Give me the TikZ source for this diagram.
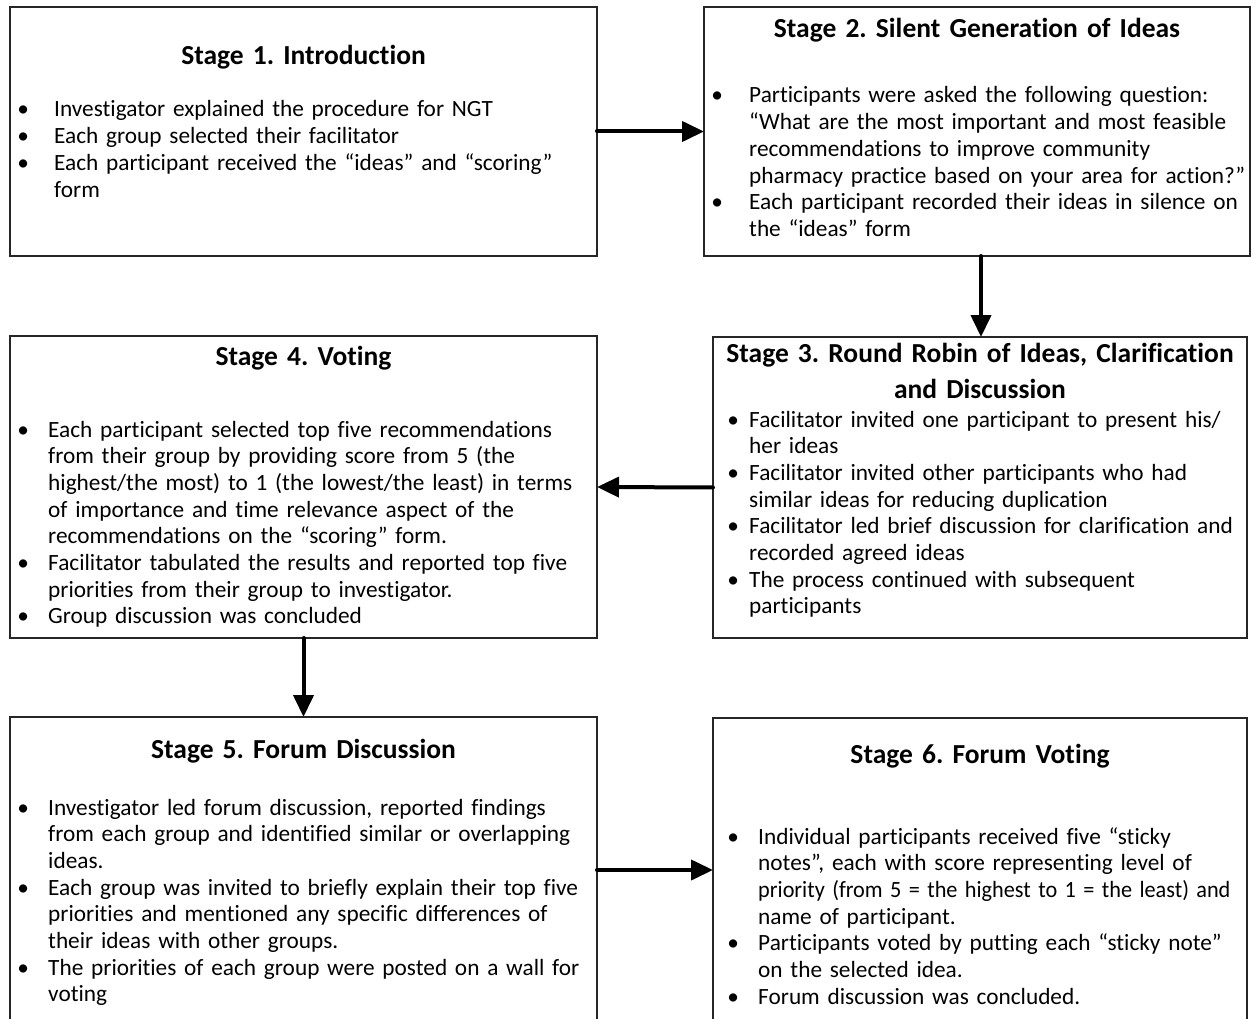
\documentclass[tikz,border=0pt]{standalone}
\usepackage{fontspec}
\usepackage{graphicx}
\setmainfont{Carlito}[Ligatures={NoCommon}]
\usetikzlibrary{arrows.meta}
\frenchspacing

% type sizes for stage headings and bullet text
\newcommand\bodysize{\fontsize{23.3pt}{26.7pt}\selectfont}
\newcommand\headsize{\fontsize{27.5pt}{36pt}\selectfont\bfseries}
% bullet hanging in the left margin of a list node
\newlength\bgap
\newcommand\itm{\llap{\makebox[0pt]{\textbullet}\hskip\bgap}\ignorespaces}
% a slightly condensed line
\newcommand\tight[1]{\scalebox{0.955}[1]{#1}}

\tikzset{
  stagebox/.style={draw=black!85, line width=1.3pt, rectangle, inner sep=0pt,
    outer sep=0pt, anchor=north west},
  head/.style={anchor=base, inner sep=0pt, text width=540pt, align=center, font=\headsize},
  items/.style={anchor=base west, inner sep=0pt, text width=640pt, align=left, font=\bodysize},
  flow/.style={line width=4pt, line cap=round, -{Triangle[length=22pt, width=20pt]}}
}

\begin{document}
\begin{tikzpicture}[x=1pt, y=-1pt]
\clip (0,0) rectangle (1253,1019);
\fill[white] (0,0) rectangle (1253,1019);

% stage frames
\node[stagebox, minimum width=587pt, minimum height=249pt] (b1) at (10,7) {};
\node[stagebox, minimum width=546pt, minimum height=249pt] (b2) at (704,7) {};
\node[stagebox, minimum width=534pt, minimum height=301pt] (b3) at (713,337) {};
\node[stagebox, minimum width=587pt, minimum height=302pt] (b4) at (10,336) {};
\node[stagebox, minimum width=587pt, minimum height=310pt] (b5) at (10,717) {};
\node[stagebox, minimum width=534pt, minimum height=310pt] (b6) at (713,718) {};

% Stage 1
\node[head] (h1) at (303.5,65) {Stage 1. Introduction};
\node[items] (t1) at (54,117) {\setlength\bgap{31pt}%
\itm Investigator explained the procedure for NGT\newline
\itm Each group selected their facilitator\newline
\itm Each participant received the “ideas” and “scoring”\newline form};

% Stage 2
\node[head] (h2) at (977,38) {Stage 2. Silent Generation of Ideas};
\node[items] (t2) at (749,103) {\setlength\bgap{32pt}%
\itm Participants were asked the following question:\newline
“What are the most important and most feasible\newline
recommendations to improve community\newline
pharmacy practice based on your area for action?”\newline
\itm Each participant recorded their ideas in silence on\newline the “ideas” form};

% Stage 3
\node[head] (h3) at (980,362) {Stage 3. Round Robin of Ideas, Clarification\\ and Discussion};
\node[items] (t3) at (749,427) {\setlength\bgap{16pt}%
\itm Facilitator invited one participant to present his/\newline her ideas\newline
\itm Facilitator invited other participants who had\newline similar ideas for reducing duplication\newline
\itm Facilitator led brief discussion for clarification and\newline recorded agreed ideas\newline
\itm The process continued with subsequent\newline participants};

% Stage 4
\node[head] (h4) at (303.5,365) {Stage 4. Voting};
\node[items] (t4) at (48,437) {\setlength\bgap{25pt}%
\itm Each participant selected top five recommendations\newline
from their group by providing score from 5 (the\newline
highest/the most) to 1 (the lowest/the least) in terms\newline
of importance and time relevance aspect of the\newline
recommendations on the “scoring” form.\newline
\itm Facilitator tabulated the results and reported top five\newline
priorities from their group to investigator.\newline
\itm Group discussion was concluded};

% Stage 5
\node[head] (h5) at (303.5,758) {Stage 5. Forum Discussion};
\node[items] (t5) at (48,815) {\setlength\bgap{25pt}%
\itm Investigator led forum discussion, reported findings\newline
from each group and identified similar or overlapping\newline ideas.\newline
\itm Each group was invited to briefly explain their top five\newline
priorities and mentioned any specific differences of\newline
their ideas with other groups.\newline
\itm The priorities of each group were posted on a wall for\newline voting};

% Stage 6
\node[head] (h6) at (980,763) {Stage 6. Forum Voting};
\node[items] (t6) at (758,844) {\setlength\bgap{25pt}%
\itm Individual participants received five “sticky\newline
notes”, each with score representing level of\newline
\tight{priority (from 5 = the highest to 1 = the least) and}\newline
name of participant.\newline
\itm Participants voted by putting each “sticky note”\newline
on the selected idea.\newline
\itm Forum discussion was concluded.};

% flow between stages
\draw[flow] (b1.east) -- (b2.west);
\draw[flow] (b2.south -| 981,0) -- (b3.north -| 981,0);
\draw[flow] (b3.west) -- (b4.east);
\draw[flow] (b4.south) -- (b5.north);
\draw[flow] (b5.east |- 0,870) -- (b6.west |- 0,870);
\end{tikzpicture}
\end{document}
